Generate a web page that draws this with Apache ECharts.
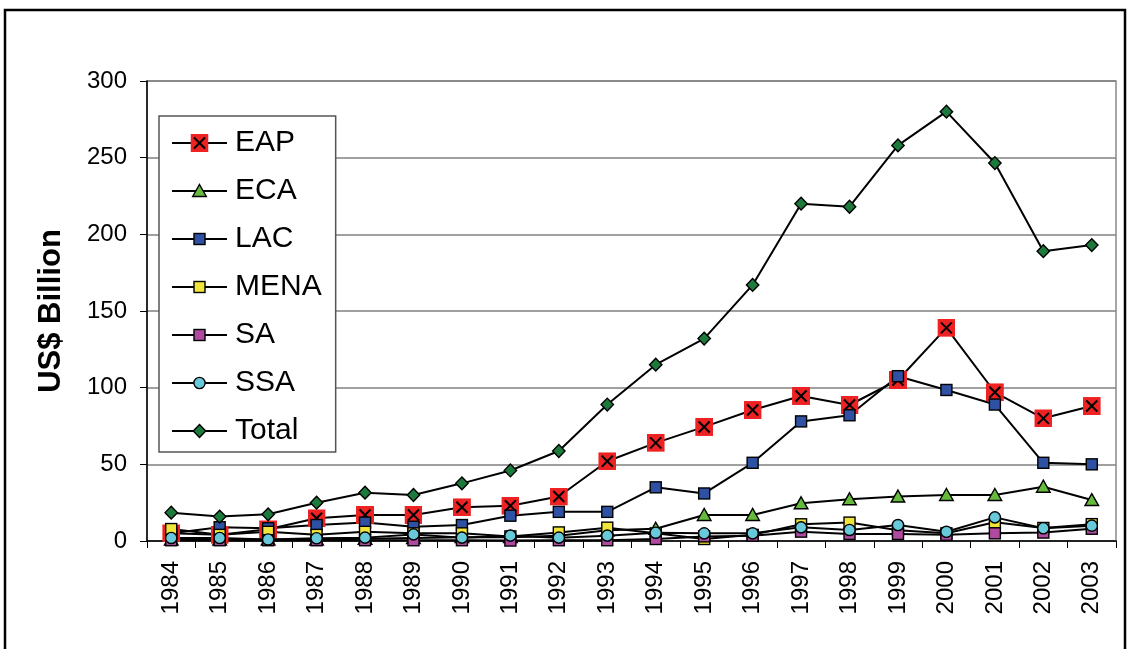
<!DOCTYPE html>
<html>
<head>
  <meta charset="utf-8">
</head>
<body style="margin: 0; background: #fff">
  <div id="container" style="width: 1130px; height: 649px"></div>
  <script src="https://cdn.jsdelivr.net/npm/echarts@6/dist/echarts.min.js"></script>
  <script>
    // values, US$ billion
    var years = ['1984', '1985', '1986', '1987', '1988', '1989', '1990', '1991', '1992', '1993',
      '1994', '1995', '1996', '1997', '1998', '1999', '2000', '2001', '2002', '2003'];
    var eap = [5, 4, 7.6, 14.8, 17, 17, 22, 23, 29, 52, 64, 74.4, 85.4, 94.6, 88.7, 105, 139, 97, 80, 88];
    var eca = [1, 1, 1, 1, 1.5, 2, 2.5, 2.5, 3.5, 7, 8, 17, 17, 24.6, 27.2, 29, 30, 30, 35.4, 26.7];
    var lac = [5, 9, 8.3, 10.4, 12, 9.3, 10.4, 16.5, 19, 19, 35, 31, 51, 78, 82, 107.5, 98.5, 89, 51, 50];
    var mena = [7.8, 4, 6, 4, 6, 5, 5, 3, 5.6, 8.7, 5, 1.3, 4, 10.9, 12, 7, 5, 12.2, 8.5, 11];
    var sa = [0.5, 0.5, 0.5, 0.5, 0.5, 0.5, 0.5, 0.3, 0.5, 0.5, 1.3, 3, 3.5, 6.1, 4.6, 4.6, 4, 5, 5.5, 8];
    var ssa = [2, 2, 1, 1.8, 2.2, 4.3, 2.2, 3.5, 2.2, 3.5, 5.4, 5, 5, 8.9, 7.2, 10.4, 6, 15.4, 8.3, 10];
    var total = [18.5, 15.9, 17.4, 25, 31.5, 30, 37.6, 46, 58.7, 89, 115, 132, 167, 220, 218, 258, 280, 246.5, 189, 193];

    var font = 'Liberation Sans, Arial, sans-serif';

    // markers as small svg images, all on an 18px canvas so the legend
    // keeps the big EAP box and the smaller other marks
    function svgSymbol(inner) {
      var svg = '<svg xmlns="http://www.w3.org/2000/svg" width="18" height="18" viewBox="0 0 18 18">' +
        inner + '</svg>';
      return 'image://data:image/svg+xml;charset=utf-8,' + encodeURIComponent(svg);
    }
    var edge = ' stroke="#000" stroke-width="1.4"';
    function square(color) {
      return svgSymbol('<rect x="3.5" y="3.5" width="11" height="11" fill="' + color + '"' + edge + '/>');
    }
    var symEap = svgSymbol('<rect width="18" height="18" fill="#ee2222"/>' +
      '<path d="M3.5 3.5L14.5 14.5M14.5 3.5L3.5 14.5" stroke="#000" stroke-width="2"/>');
    var symEca = svgSymbol('<polygon points="9,2.5 15.8,14.5 2.2,14.5" fill="#66bb3c"' + edge + '/>');
    var symSsa = svgSymbol('<circle cx="9" cy="9" r="5.6" fill="#68c9da"' + edge + '/>');
    var symTotal = svgSymbol('<polygon points="9,2.6 15.2,9 9,15.4 2.8,9" fill="#1c7a3c"' + edge + '/>');

    function line(name, data, symbol) {
      return {
        name: name,
        type: 'line',
        data: data,
        symbol: symbol,
        symbolSize: 18,
        showAllSymbol: true,
        animation: false,
        lineStyle: { color: '#000', width: 2 },
        itemStyle: { color: '#000' }
      };
    }

    var chart = echarts.init(document.getElementById('container'), null, { renderer: 'canvas' });

    chart.setOption({
      animation: false,
      graphic: [{
        type: 'rect',
        shape: { x: 5, y: 10, width: 1120, height: 700 },
        style: { fill: 'none', stroke: '#000', lineWidth: 2.5 },
        silent: true
      }],
      grid: {
        left: 147, right: 14, top: 81, bottom: 108,
        show: true, borderColor: '#8a8a8a', borderWidth: 1.5
      },
      legend: {
        left: 159, top: 116,
        orient: 'vertical',
        backgroundColor: '#fff',
        borderColor: '#555',
        borderWidth: 1.5,
        padding: [12, 14, 6, 12],
        itemWidth: 55, itemHeight: 22.5, itemGap: 18,
        textStyle: { fontFamily: font, fontSize: 30, color: '#000', padding: [0, 0, 0, 3] },
        data: ['EAP', 'ECA', 'LAC', 'MENA', 'SA', 'SSA', 'Total']
      },
      xAxis: {
        type: 'category',
        data: years,
        boundaryGap: true,
        axisLine: { lineStyle: { color: '#000', width: 1.5 } },
        axisTick: { show: true, length: 7, inside: false, lineStyle: { color: '#000' } },
        axisLabel: { rotate: 90, margin: 20, fontFamily: font, fontSize: 24, color: '#000' }
      },
      yAxis: {
        type: 'value',
        min: 0, max: 300, interval: 50,
        name: 'US$ Billion',
        nameLocation: 'middle',
        nameGap: 80,
        nameTextStyle: { fontFamily: font, fontSize: 31, fontWeight: 'bold', color: '#000' },
        axisLine: { show: true, lineStyle: { color: '#000', width: 1.5 } },
        axisTick: { show: true, length: 7, lineStyle: { color: '#000' } },
        axisLabel: { margin: 20, fontFamily: font, fontSize: 24, color: '#000' },
        splitLine: { lineStyle: { color: '#808080', width: 1.5 } }
      },
      series: [
        line('EAP', eap, symEap),
        line('ECA', eca, symEca),
        line('LAC', lac, square('#2f51a3')),
        line('MENA', mena, square('#f2e53a')),
        line('SA', sa, square('#b04aa0')),
        line('SSA', ssa, symSsa),
        line('Total', total, symTotal)
      ]
    });

    window.addEventListener('resize', chart.resize);
  </script>
</body>
</html>
